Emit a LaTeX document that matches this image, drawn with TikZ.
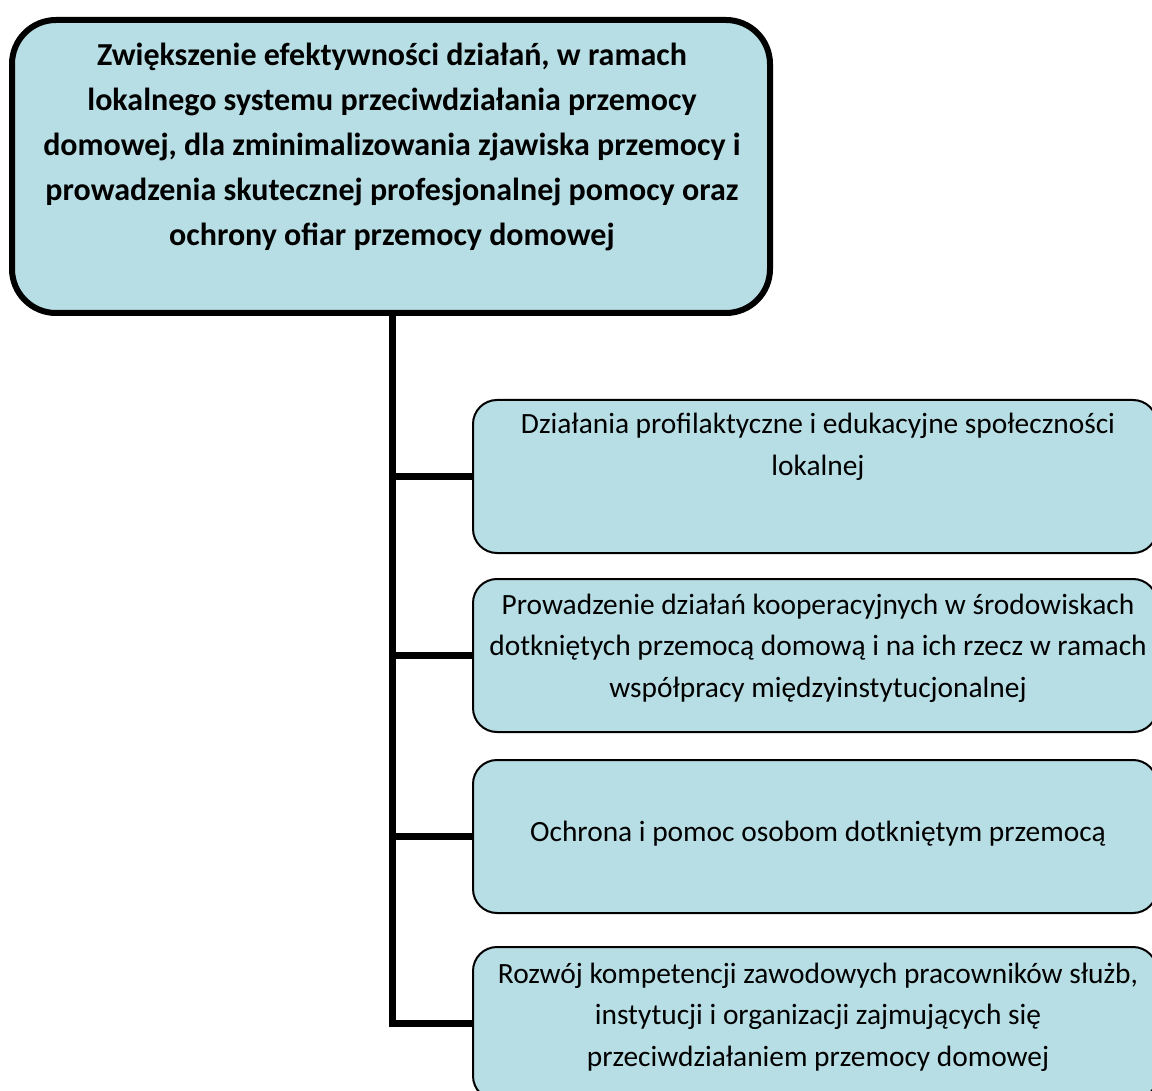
\documentclass[tikz,border=0pt]{standalone}
\usepackage{fontspec}
\setmainfont{Carlito}
\definecolor{boxfill}{RGB}{183,222,228}
\begin{document}
\begin{tikzpicture}[x=1pt,y=-1pt,
  mainbox/.style={draw=black,line width=6pt,fill=boxfill,rounded corners=44pt,minimum width=758pt,minimum height=293pt,inner sep=0pt},
  subbox/.style={draw=black,line width=2pt,fill=boxfill,rounded corners=24pt,minimum width=684pt,minimum height=153pt,inner sep=0pt},
  maintext/.style={align=center,inner sep=0pt,font=\fontsize{32}{45}\selectfont\bfseries},
  subtext/.style={align=center,inner sep=0pt,font=\fontsize{29.4}{41.5}\selectfont},
  link/.style={draw=black,line width=7pt}]
\clip (0,0) rectangle (1152,1091);
\fill[white] (0,0) rectangle (1152,1091);
\node[mainbox] (main) at (391,166.5) {};
\node[subbox] (b1) at (815,476.5) {};
\node[subbox] (b2) at (815,655.5) {};
\node[subbox] (b3) at (815,836.5) {};
\node[subbox] (b4) at (815,1023.5) {};
\node[maintext] (t0) at (392,147) {Zwiększenie efektywności działań, w ramach\\lokalnego systemu przeciwdziałania przemocy\\domowej, dla zminimalizowania zjawiska przemocy i\\prowadzenia skutecznej profesjonalnej pomocy oraz\\ochrony ofiar przemocy domowej};
\node[subtext] (t1) at (818,447) {Działania profilaktyczne i edukacyjne społeczności\\lokalnej};
\node[subtext] (t2) at (818,648) {Prowadzenie działań kooperacyjnych w środowiskach\\dotkniętych przemocą domową i na ich rzecz w ramach\\współpracy międzyinstytucjonalnej};
\node[subtext] (t3) at (818,834) {Ochrona i pomoc osobom dotkniętym przemocą};
\node[subtext] (t4) at (818,1017) {Rozwój kompetencji zawodowych pracowników służb,\\instytucji i organizacji zajmujących się\\przeciwdziałaniem przemocy domowej};
\coordinate (trunk) at ([xshift=1pt]main.south);
\draw[link] (trunk) |- (b4.west);
\draw[link] (b1.west) -- (b1.west -| trunk);
\draw[link] (b2.west) -- (b2.west -| trunk);
\draw[link] (b3.west) -- (b3.west -| trunk);
\end{tikzpicture}
\end{document}
